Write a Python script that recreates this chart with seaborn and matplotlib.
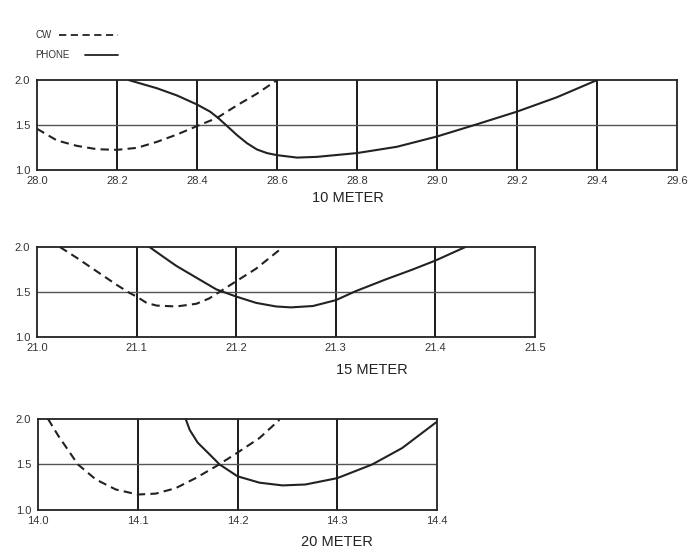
import numpy as np
import pandas as pd
import matplotlib
matplotlib.use("Agg")
import matplotlib.pyplot as plt
import seaborn as sns

# SWR VALUES (MHz, SWR)
cw_10_mhz = [28.0, 28.05, 28.1, 28.15, 28.2, 28.25, 28.3, 28.35, 28.4, 28.45, 28.5, 28.55, 28.6]
cw_10_swr = [1.46, 1.33, 1.27, 1.233, 1.226, 1.248, 1.315, 1.396, 1.49, 1.58, 1.72, 1.85, 2.0]
phone_10_mhz = [28.23, 28.3, 28.35, 28.4, 28.433, 28.453, 28.473, 28.5, 28.525, 28.55, 28.575,
                28.6, 28.65, 28.7, 28.8, 28.9, 29.0, 29.1, 29.2, 29.3, 29.4]
phone_10_swr = [2.0, 1.91, 1.83, 1.73, 1.65, 1.58, 1.50, 1.39, 1.30, 1.23, 1.19,
                1.167, 1.14, 1.148, 1.19, 1.26, 1.374, 1.51, 1.65, 1.81, 2.0]

cw_15_mhz = [21.023, 21.04, 21.06, 21.08, 21.093, 21.1, 21.11, 21.12, 21.14, 21.16, 21.173,
             21.183, 21.2, 21.22, 21.247]
cw_15_swr = [2.0, 1.88, 1.73, 1.58, 1.49, 1.45, 1.38, 1.35, 1.34, 1.37, 1.43,
             1.50, 1.62, 1.76, 2.0]
phone_15_mhz = [21.113, 21.127, 21.14, 21.16, 21.18, 21.2, 21.22, 21.24, 21.255, 21.277,
                21.3, 21.32, 21.35, 21.377, 21.4, 21.43]
phone_15_swr = [2.0, 1.89, 1.79, 1.66, 1.53, 1.45, 1.38, 1.34, 1.33, 1.345,
                1.41, 1.51, 1.64, 1.75, 1.85, 2.0]

cw_20_mhz = [14.01, 14.02, 14.03, 14.04, 14.058, 14.078, 14.1, 14.118, 14.138, 14.158,
             14.18, 14.2, 14.222, 14.242]
cw_20_swr = [2.0, 1.82, 1.66, 1.50, 1.335, 1.225, 1.17, 1.18, 1.24, 1.35,
             1.49, 1.63, 1.79, 1.99]
phone_20_mhz = [14.148, 14.152, 14.16, 14.172, 14.182, 14.2, 14.222, 14.245, 14.268,
                14.3, 14.335, 14.365, 14.4]
phone_20_swr = [2.0, 1.88, 1.74, 1.61, 1.50, 1.37, 1.30, 1.27, 1.28,
                1.35, 1.50, 1.68, 1.97]

ticks_10 = [28.0, 28.2, 28.4, 28.6, 28.8, 29.0, 29.2, 29.4, 29.6]
ticks_15 = [21.0, 21.1, 21.2, 21.3, 21.4, 21.5]
ticks_20 = [14.0, 14.1, 14.2, 14.3, 14.4]
swr_ticks = [1.0, 1.5, 2.0]

bandas = [
    ("10 METER", cw_10_mhz, cw_10_swr, phone_10_mhz, phone_10_swr, ticks_10,
     [0.0533, 0.690, 0.922, 0.164], (0.501, 0.639)),
    ("15 METER", cw_15_mhz, cw_15_swr, phone_15_mhz, phone_15_swr, ticks_15,
     [0.0533, 0.386, 0.7176, 0.164], (0.536, 0.326)),
    ("20 METER", cw_20_mhz, cw_20_swr, phone_20_mhz, phone_20_swr, ticks_20,
     [0.0548, 0.071, 0.575, 0.166], (0.486, 0.013)),
]

sns.set_theme(style="white")
plt.rcParams["font.family"] = ["Liberation Sans", "DejaVu Sans"]

fig = plt.figure(figsize=(6.94, 5.49), dpi=100)
fig.patch.set_facecolor("white")

for nome, cw_x, cw_y, ph_x, ph_y, xt, pos, lab_pos in bandas:
    ax = fig.add_axes(pos)
    df = pd.concat([
        pd.DataFrame({"mhz": cw_x, "swr": cw_y, "modo": "CW"}),
        pd.DataFrame({"mhz": ph_x, "swr": ph_y, "modo": "PHONE"}),
    ])
    for xv in xt[1:-1]:
        ax.axvline(xv, color="#1a1a1a", lw=1.4, zorder=1)
    ax.axhline(1.5, color="#555555", lw=1.0, zorder=1)
    sns.lineplot(data=df, x="mhz", y="swr", style="modo",
                 dashes={"CW": (4, 2.5), "PHONE": ""}, color="#222222",
                 lw=1.5, legend=False, ax=ax, sort=False, zorder=3)
    ax.set_xlim(xt[0], xt[-1])
    ax.set_ylim(1.0, 2.0)
    ax.set_xticks(xt)
    ax.set_xticklabels([f"{v:.1f}" for v in xt], fontsize=8, color="#333333")
    ax.set_yticks(swr_ticks)
    ax.set_yticklabels([f"{v:.1f}" for v in swr_ticks], fontsize=8, color="#333333")
    ax.tick_params(axis="x", length=0, pad=4.5)
    ax.tick_params(axis="y", length=0, pad=5)
    ax.set_xlabel("")
    ax.set_ylabel("")
    for s in ax.spines.values():
        s.set_color("#222222")
        s.set_linewidth(1.3)
    fig.text(lab_pos[0], lab_pos[1], nome, fontsize=10.5, color="#222222",
             ha="center", va="center")

# LEGENDA DESENHADA À MÃO NO TOPO
fig.text(0.051, 0.936, "CW", fontsize=7, color="#333333", va="center")
fig.text(0.051, 0.900, "PHONE", fontsize=7, color="#333333", va="center")
fig.add_artist(plt.Line2D([0.085, 0.170], [0.936, 0.936], color="#222222",
                          lw=1.3, ls=(0, (4, 2.5))))
fig.add_artist(plt.Line2D([0.122, 0.170], [0.900, 0.900], color="#222222", lw=1.3))

fig.savefig("out.png", dpi=100)
